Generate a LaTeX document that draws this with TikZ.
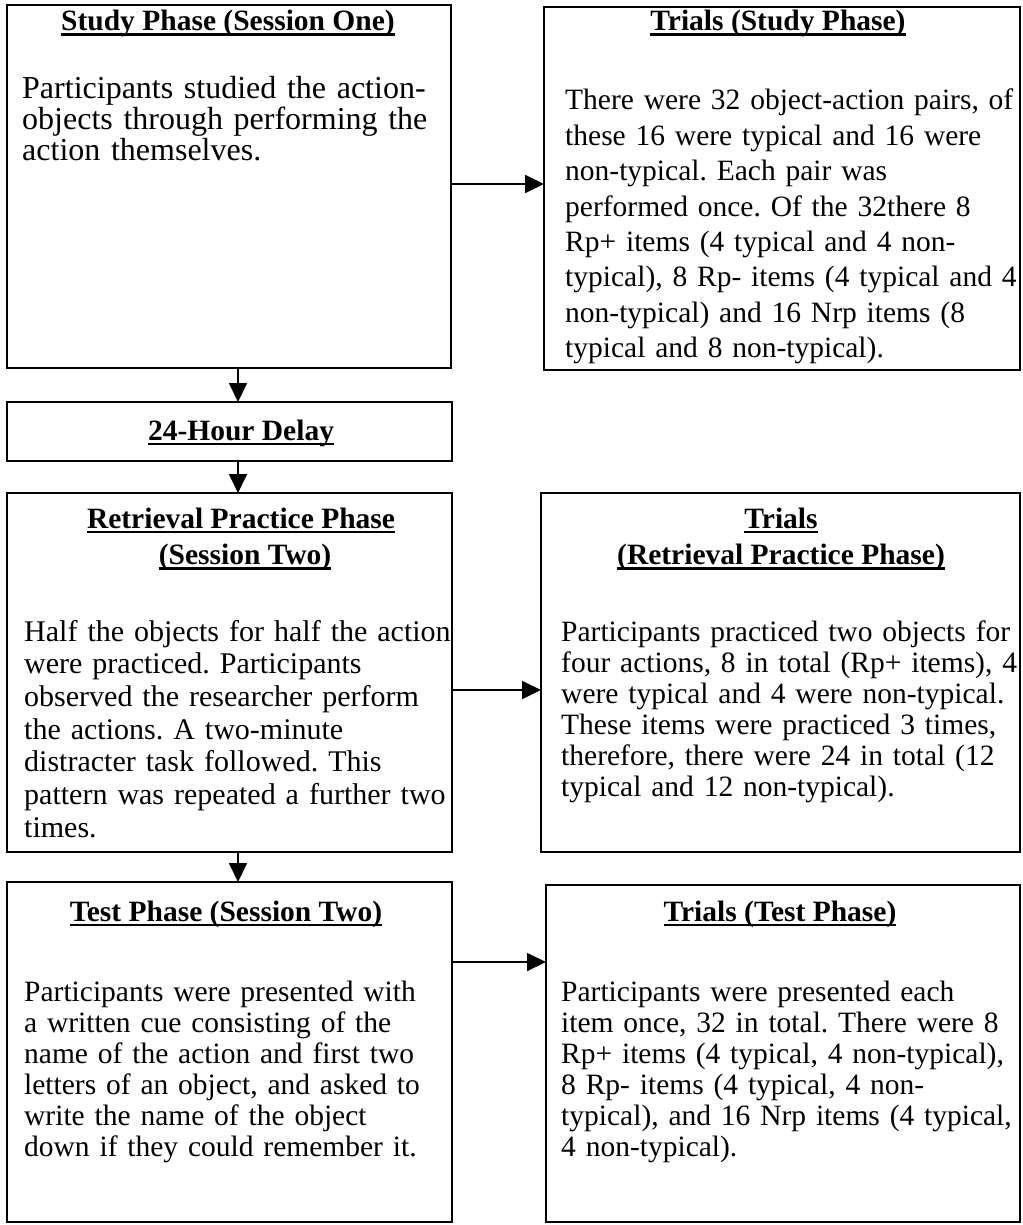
\documentclass[tikz,border=0pt]{standalone}
\usepackage{fontspec}
\setmainfont{Liberation Serif}
\usetikzlibrary{arrows.meta}
\frenchspacing
% bold heading with a heavy underline just below the baseline
\newcommand{\ulhead}[1]{\leavevmode\setbox0=\hbox{#1}\rlap{\vrule height -2.5pt depth 5pt width \wd0}\box0}

\begin{document}
\begin{tikzpicture}[x=1pt,y=-1pt,
  box/.style={draw=black, line width=2.2pt, rectangle, inner sep=0pt, outer sep=0pt},
  head/.style={font=\bfseries\fontsize{29.5}{33.5}\selectfont, anchor=base, inner sep=0pt},
  body/.style={font=\fontsize{29.5}{31}\selectfont, align=left, anchor=base west, inner sep=0pt, text width=480pt},
  flow/.style={line width=1.8pt, -{Triangle[length=19pt,width=18pt]}}]

\useasboundingbox (0,0) rectangle (1022,1225);

% boxes
\node[box, minimum width=444pt, minimum height=363pt] (study)  at (229,186.5) {};
\node[box, minimum width=476pt, minimum height=363pt] (trialsA) at (782,188.5) {};
\node[box, minimum width=445pt, minimum height=59pt]  (delay)  at (229.5,431.5) {};
\node[box, minimum width=445pt, minimum height=359pt] (retr)   at (229.5,672.5) {};
\node[box, minimum width=479pt, minimum height=359pt] (trialsB) at (780.5,672.5) {};
\node[box, minimum width=445pt, minimum height=340pt] (test)   at (229.5,1052) {};
\node[box, minimum width=474pt, minimum height=337pt] (trialsC) at (783,1053.5) {};

% headings
\node[head] (hStudy)  at (228,31)  {\ulhead{Study Phase (Session One)}};
\node[head] (hTrA)    at (778,31)  {\ulhead{Trials (Study Phase)}};
\node[head] (hDelay)  at (241,440) {\ulhead{24-Hour Delay}};
\node[head] (hRetr1)  at (241,528) {\ulhead{Retrieval Practice Phase}};
\node[head] (hRetr2)  at (245,564.5) {\ulhead{(Session Two)}};
\node[head] (hTrB1)   at (781,528) {\ulhead{Trials}};
\node[head] (hTrB2)   at (781,564.5) {\ulhead{(Retrieval Practice Phase)}};
\node[head] (hTest)   at (226,921) {\ulhead{Test Phase (Session Two)}};
\node[head] (hTrC)    at (780,921) {\ulhead{Trials (Test Phase)}};

% body texts
\node[body, font=\fontsize{32}{31}\selectfont] (tStudy) at (22,99) {Participants studied the action-\\
objects through performing the\\
action themselves.};

\node[body, font=\fontsize{29.5}{35.4}\selectfont] (tTrA) at (565,110) {There were 32 object-action pairs, of\\
these 16 were typical and 16 were\\
non-typical. Each pair was\\
performed once. Of the 32there 8\\
Rp+ items (4 typical and 4 non-\\
typical), 8 Rp- items (4 typical and 4\\
non-typical) and 16 Nrp items (8\\
typical and 8 non-typical).};

\node[body, font=\fontsize{30}{32.7}\selectfont] (tRetr) at (24,641) {Half the objects for half the action\\
were practiced. Participants\\
observed the researcher perform\\
the actions. A two-minute\\
distracter task followed. This\\
pattern was repeated a further two\\
times.};

\node[body] (tTrB) at (561,641) {Participants practiced two objects for\\
four actions, 8 in total (Rp+ items), 4\\
were typical and 4 were non-typical.\\
These items were practiced 3 times,\\
therefore, there were 24 in total (12\\
typical and 12 non-typical).};

\node[body] (tTest) at (24,1001) {Participants were presented with\\
a written cue consisting of the\\
name of the action and first two\\
letters of an object, and asked to\\
write the name of the object\\
down if they could remember it.};

\node[body] (tTrC) at (561,1001) {Participants were presented each\\
item once, 32 in total. There were 8\\
Rp+ items (4 typical, 4 non-typical),\\
8 Rp- items (4 typical, 4 non-\\
typical), and 16 Nrp items (4 typical,\\
4 non-typical).};

% connector guides
\coordinate (dx) at (238,0);
\coordinate (r1) at (0,184);
\coordinate (r2) at (0,690);
\coordinate (r3) at (0,962);

% vertical flow
\draw[flow] (study.south -| dx) -- (delay.north -| dx);
\draw[flow] (delay.south -| dx) -- (retr.north -| dx);
\draw[flow] (retr.south -| dx) -- (test.north -| dx);

% phase to trials
\draw[flow] (study.east |- r1) -- (trialsA.west |- r1);
\draw[flow] (retr.east |- r2) -- (trialsB.west |- r2);
\draw[flow] (test.east |- r3) -- (trialsC.west |- r3);
\end{tikzpicture}
\end{document}
